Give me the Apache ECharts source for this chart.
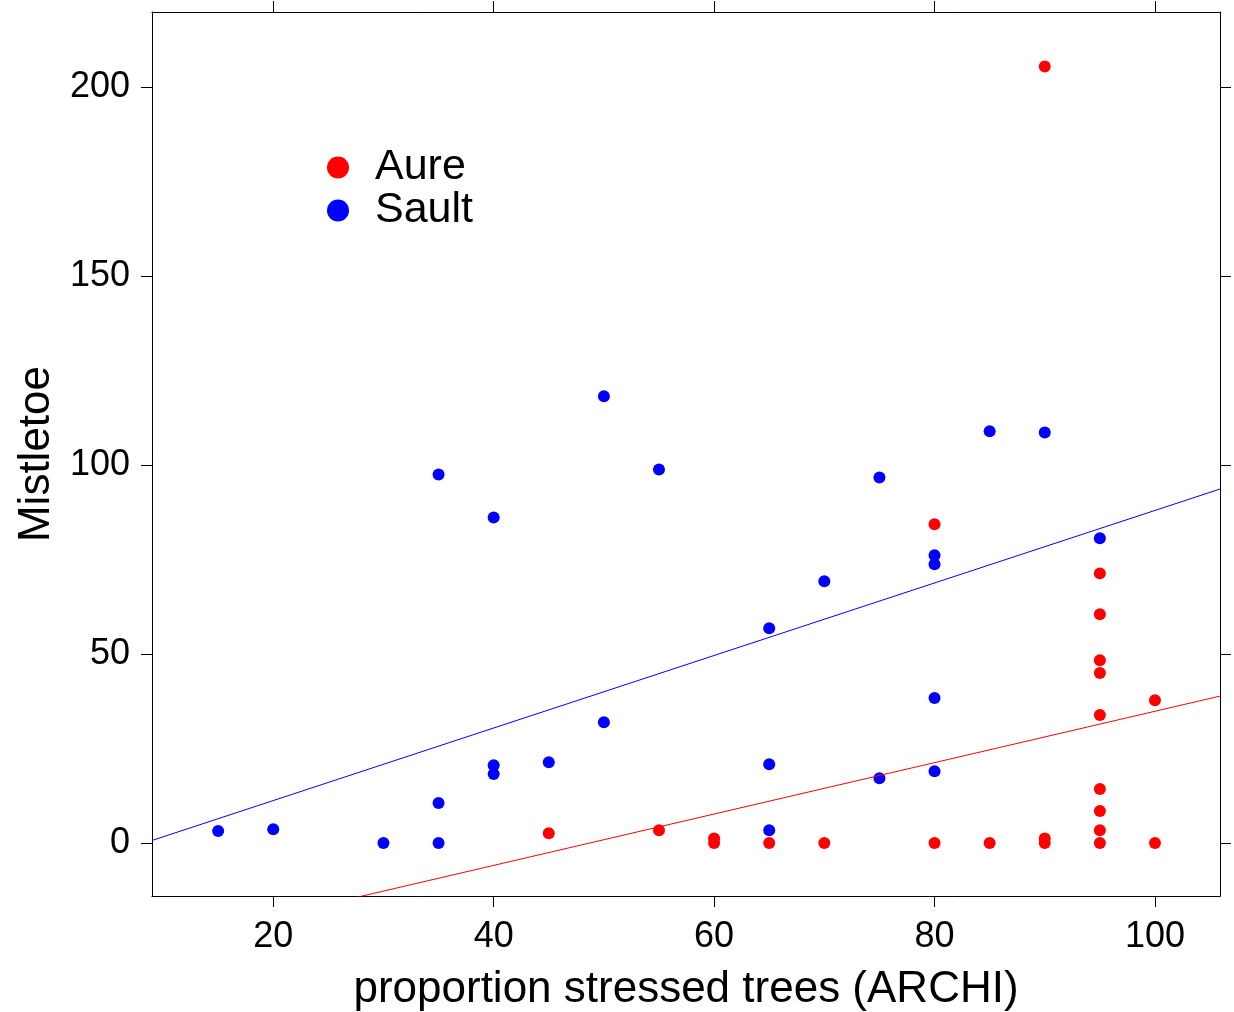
<!DOCTYPE html>
<html>
<head>
<meta charset="utf-8">
<script src="https://cdn.jsdelivr.net/npm/echarts@6/dist/echarts.min.js"></script>
<style>html,body{margin:0;padding:0;background:#fff}#c{width:1234px;height:1012px}</style>
</head>
<body>
<div id="c"></div>
<script>
// Aure (red) points: [x, y]
const aureX = [45, 55, 60, 60, 65, 70, 80, 80, 85, 90, 90, 90, 95, 95, 95, 95, 95, 95, 95, 95, 95, 100, 100];
const aureY = [2.6, 3.4, 1.2, 0, 0, 0, 84.4, 0, 0, 205.6, 1.2, 0, 71.4, 60.6, 48.4, 45, 33.9, 14.3, 8.5, 3.4, 0, 37.8, 0];
// Sault (blue) points
const saultX = [15, 20, 30, 35, 35, 35, 40, 40, 40, 45, 50, 50, 55, 65, 65, 65, 70, 75, 75, 80, 80, 80, 80, 85, 90, 95];
const saultY = [3.2, 3.7, 0, 97.6, 10.6, 0, 86.2, 20.6, 18.3, 21.4, 118.3, 32, 98.9, 56.9, 20.9, 3.4, 69.3, 96.8, 17.2, 76.2, 73.8, 38.4, 19, 109, 108.7, 80.7];
// regression lines: [intercept, slope]
const aureFit = [-33.1, 0.68];
const saultFit = [-7.94, 0.96];
// axes
const xTicks = [20, 40, 60, 80, 100];
const yTicks = [0, 50, 100, 150, 200];
const xMin = 9.0, xMax = 105.9, yMin = -14, yMax = 220;

const pts = (xs, ys) => xs.map((x, i) => [x, ys[i]]);
const fitLine = (f) => [[xMin, f[0] + f[1] * xMin], [xMax, f[0] + f[1] * xMax]];

const FONT = 'Liberation Sans, Arial, sans-serif';
const line = { show: true, onZero: false, lineStyle: { color: '#000', width: 1 } };
const tick = (vals) => ({ show: true, length: 11, inside: false, customValues: vals, lineStyle: { color: '#000', width: 1 } });

const chart = echarts.init(document.getElementById('c'), null, { renderer: 'canvas' });
chart.setOption({
  animation: false,
  backgroundColor: '#fff',
  grid: { left: 152, top: 12, right: 14, bottom: 116, containLabel: false, outerBoundsMode: 'none' },
  legend: {
    orient: 'vertical', left: 322, top: 141, itemGap: 0,
    icon: 'circle', itemWidth: 22, itemHeight: 22,
    data: ['Aure', 'Sault'],
    textStyle: { fontFamily: FONT, fontSize: 43, lineHeight: 42, color: '#000', padding: [0, 0, 0, 21] }
  },
  xAxis: [
    { type: 'value', position: 'bottom', min: xMin, max: xMax,
      name: 'proportion stressed trees (ARCHI)', nameLocation: 'middle', nameGap: 72,
      nameTextStyle: { fontFamily: FONT, fontSize: 44, color: '#000' },
      axisLine: line, axisTick: tick(xTicks),
      axisLabel: { customValues: xTicks, fontFamily: FONT, fontSize: 36, color: '#000', margin: 23 },
      splitLine: { show: false } },
    { type: 'value', position: 'top', min: xMin, max: xMax,
      axisLine: line, axisTick: tick(xTicks),
      axisLabel: { show: false }, splitLine: { show: false } }
  ],
  yAxis: [
    { type: 'value', position: 'left', min: yMin, max: yMax,
      name: 'Mistletoe', nameLocation: 'middle', nameGap: 92, nameRotate: 90,
      nameTextStyle: { fontFamily: FONT, fontSize: 44, color: '#000' },
      axisLine: line, axisTick: tick(yTicks),
      axisLabel: { customValues: yTicks, fontFamily: FONT, fontSize: 36, color: '#000', margin: 22 },
      splitLine: { show: false } },
    { type: 'value', position: 'right', min: yMin, max: yMax,
      axisLine: line, axisTick: tick(yTicks),
      axisLabel: { show: false }, splitLine: { show: false } }
  ],
  series: [
    { name: 'Sault fit', type: 'line', data: fitLine(saultFit), showSymbol: false, clip: true,
      lineStyle: { color: '#0000FF', width: 1 }, silent: true },
    { name: 'Aure fit', type: 'line', data: fitLine(aureFit), showSymbol: false, clip: true,
      lineStyle: { color: '#FF0000', width: 1 }, silent: true },
    { name: 'Aure', type: 'scatter', data: pts(aureX, aureY), symbol: 'circle', symbolSize: 12,
      itemStyle: { color: '#FF0000', opacity: 1 } },
    { name: 'Sault', type: 'scatter', data: pts(saultX, saultY), symbol: 'circle', symbolSize: 12,
      itemStyle: { color: '#0000FF', opacity: 1 } }
  ]
});
</script>
</body>
</html>
